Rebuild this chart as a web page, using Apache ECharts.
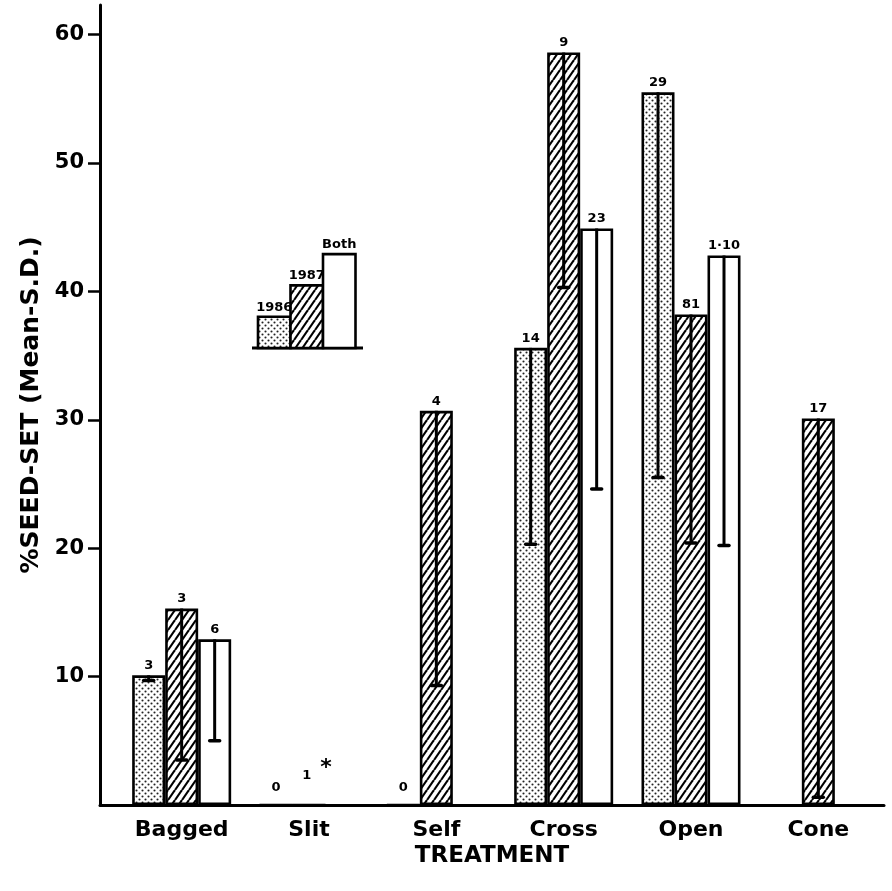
<!DOCTYPE html>
<html>
<head>
<meta charset="utf-8">
<script src="https://cdn.jsdelivr.net/npm/echarts@6/dist/echarts.min.js"></script>
<style>
  html, body { margin: 0; padding: 0; background: #fff; }
  #chart { width: 892px; height: 891px; }
</style>
</head>
<body>
<div id="chart"></div>
<script>
// ---- data ----
const categories = ['Bagged', 'Slit', 'Self', 'Cross', 'Open', 'Cone'];
const mean1986 = [10.1, 0, 0, 35.6, 55.5, null];
const low1986  = [9.7, null, null, 20.3, 25.5, null];
const mean1987 = [15.3, 0, 30.7, 58.6, 38.2, 30.1];
const low1987  = [3.5, null, 9.3, 40.3, 20.4, 0.6];
const meanBoth = [12.9, null, null, 44.9, 42.8, null];
const lowBoth  = [5.0, null, null, 24.6, 20.2, null];
const n1986 = ['3', '0', '0', '14', '29', ''];
const n1987 = ['3', '1', '4', '9', '81', '17'];
const nBoth = ['6', '', '', '23', '1·10', ''];
const note1987 = ['', '*', '', '', '', ''];
const yTickValues = [10, 20, 30, 40, 50, 60];
const legendNames = ['1986', '1987', 'Both'];
const legendSteps = [1, 2, 3];
const xTitle = 'TREATMENT';
const yTitle = '%SEED-SET (Mean-S.D.)';

// ---- patterns ----
function dotPattern() {
  const c = document.createElement('canvas');
  c.width = 6; c.height = 6;
  const g = c.getContext('2d');
  g.fillStyle = '#ffffff'; g.fillRect(0, 0, 6, 6);
  g.fillStyle = '#222';
  [[1.5, 1.5], [4.5, 4.5]].forEach(p => { g.beginPath(); g.arc(p[0], p[1], 1.05, 0, Math.PI * 2); g.fill(); });
  return c;
}
function hatchPattern() {
  const w = 7, h = 10;
  const c = document.createElement('canvas');
  c.width = w; c.height = h;
  const g = c.getContext('2d');
  g.fillStyle = '#ffffff'; g.fillRect(0, 0, w, h);
  g.strokeStyle = '#000'; g.lineWidth = 2.1;
  [-w, 0, w].forEach(dx => { g.beginPath(); g.moveTo(dx, h); g.lineTo(dx + w, 0); g.stroke(); });
  return c;
}
const fills = [
  { image: dotPattern(), repeat: 'repeat' },
  { image: hatchPattern(), repeat: 'repeat' },
  '#ffffff'
];

const FONT = 'DejaVu Sans';
const BAR_W = 33;

function barItems(values, nums, notes) {
  return values.map((v, i) => {
    if (v === null) return { value: null };
    const item = { value: v };
    if (v === 0) item.label = { distance: 10 };
    if (notes && notes[i]) item.label = { distance: 10, offset: [8, 0] };
    return item;
  });
}
function barSeries(idx, values, nums, notes) {
  return {
    type: 'bar', xAxisIndex: 0, yAxisIndex: 0,
    barWidth: BAR_W, barGap: '0%',
    data: barItems(values, nums, notes),
    itemStyle: { color: fills[idx], borderColor: '#000', borderWidth: 2.6 },
    label: {
      show: true, position: 'top', distance: 3,
      fontFamily: FONT, fontWeight: 'bold', fontSize: 13, color: '#000',
      formatter: p => {
        const t = nums[p.dataIndex];
        if (notes && notes[p.dataIndex]) return '{n|' + t + '}  {s|' + notes[p.dataIndex] + '}';
        return t;
      },
      rich: {
        n: { fontFamily: FONT, fontWeight: 'bold', fontSize: 13, color: '#000' },
        s: { fontFamily: FONT, fontWeight: 'bold', fontSize: 22, color: '#000', padding: [0, 0, 14, 0] }
      }
    },
    z: 2
  };
}
function errSeries(idx, means, lows) {
  const data = [];
  means.forEach((m, i) => { if (m !== null && lows[i] !== null) data.push([i, m, lows[i]]); });
  return {
    type: 'custom', xAxisIndex: 0, yAxisIndex: 0, z: 5,
    encode: { x: 0, y: [1, 2] },
    data: data,
    renderItem: (params, api) => {
      const i = api.value(0);
      const top = api.coord([i, api.value(1)]);
      const bot = api.coord([i, api.value(2)]);
      const x = top[0] + (idx - 1) * BAR_W;
      return {
        type: 'group',
        children: [
          { type: 'line', shape: { x1: x, y1: top[1], x2: x, y2: bot[1] }, style: { stroke: '#000', lineWidth: 3 } },
          { type: 'line', shape: { x1: x - 5, y1: bot[1], x2: x + 5, y2: bot[1] }, style: { stroke: '#000', lineWidth: 3.5, lineCap: 'round' } }
        ]
      };
    }
  };
}

// legend inset built as graphics
const legX0 = 258, legBase = 348, legStep = 31.3, legW = 32.5;
const legendChildren = [
  { type: 'line', shape: { x1: 252, y1: legBase, x2: 363, y2: legBase }, style: { stroke: '#000', lineWidth: 3 } }
];
legendNames.forEach((name, i) => {
  const h = legendSteps[i] * legStep;
  const x = legX0 + i * legW;
  legendChildren.push({ type: 'rect', shape: { x: x, y: legBase - h, width: legW, height: h },
    style: { fill: fills[i], stroke: '#000', lineWidth: 2.6 }, z: 1 });
  legendChildren.push({ type: 'text', x: x + legW / 2, y: legBase - h - 3,
    style: { text: name, fontFamily: FONT, fontWeight: 'bold', fontSize: 13, fill: '#000', align: 'center', verticalAlign: 'bottom' }, z: 2 });
});

const chart = echarts.init(document.getElementById('chart'), null, { renderer: 'canvas' });
chart.setOption({
  backgroundColor: '#fff',
  animation: false,
  grid: [
    { left: 118, right: 10, top: 5, bottom: 86 },
    { left: 100, right: 8, top: 5, bottom: 86 }
  ],
  xAxis: [
    {
      type: 'category', gridIndex: 0, data: categories,
      axisLine: { show: false }, axisTick: { show: false },
      axisLabel: { fontFamily: FONT, fontWeight: 'bold', fontSize: 22, color: '#000', margin: 14 }
    },
    {
      type: 'value', gridIndex: 1, min: 0, max: 1,
      axisLine: { show: true, lineStyle: { color: '#000', width: 3 } },
      axisTick: { show: false }, axisLabel: { show: false }, splitLine: { show: false },
      name: xTitle, nameLocation: 'middle', nameGap: 40,
      nameTextStyle: { fontFamily: FONT, fontWeight: 'bold', fontSize: 23, color: '#000', verticalAlign: 'top' }
    }
  ],
  yAxis: [
    {
      type: 'value', gridIndex: 0, min: 0, max: 62.3, interval: 10, offset: 18,
      axisLine: { show: true, lineStyle: { color: '#000', width: 3 } },
      axisTick: { show: true, length: 12, lineStyle: { color: '#000', width: 2.5 } },
      splitLine: { show: false },
      axisLabel: {
        fontFamily: FONT, fontWeight: 'bold', fontSize: 21, color: '#000', margin: 16,
        showMinLabel: false, showMaxLabel: false,
        formatter: v => (yTickValues.indexOf(Math.round(v * 100) / 100) >= 0 ? String(v) : '')
      },
      name: yTitle, nameLocation: 'middle', nameGap: 48, nameRotate: 90,
      nameTextStyle: { fontFamily: FONT, fontWeight: 'bold', fontSize: 25, color: '#000' }
    },
    {
      type: 'value', gridIndex: 1, show: false, min: 0, max: 1
    }
  ],
  series: [
    barSeries(0, mean1986, n1986, null),
    barSeries(1, mean1987, n1987, note1987),
    barSeries(2, meanBoth, nBoth, null),
    errSeries(0, mean1986, low1986),
    errSeries(1, mean1987, low1987),
    errSeries(2, meanBoth, lowBoth)
  ],
  graphic: [{ type: 'group', children: legendChildren }]
});
</script>
</body>
</html>
